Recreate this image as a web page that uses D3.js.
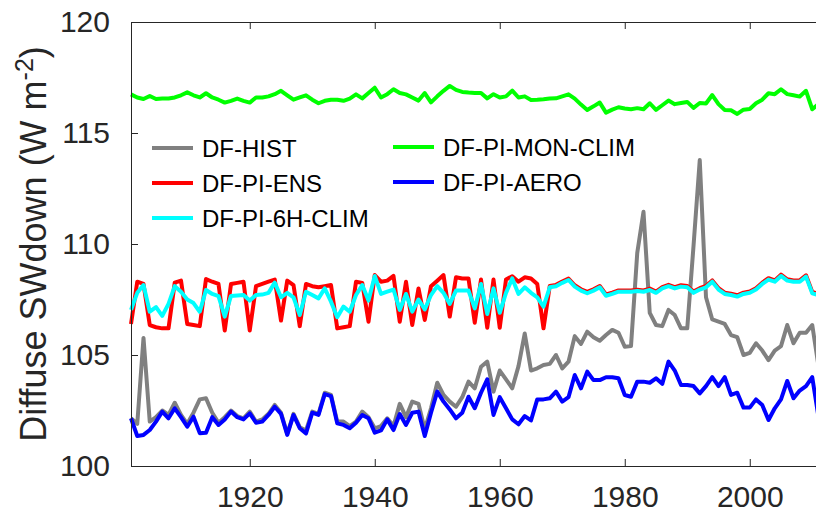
<!DOCTYPE html>
<html>
<head>
<meta charset="utf-8">
<script src="https://cdn.jsdelivr.net/npm/d3@7"></script>
<style>
  body { margin: 0; background: #fff; }
  svg { display: block; font-family: "Liberation Sans", Arial, Helvetica, sans-serif; }
</style>
</head>
<body>
<div id="chart"></div>
<script>
// years 1901..2011 (last one only partly visible at the right edge)
var years = d3.range(1901, 2012);

var dfHist = [
  102.15, 101.9, 105.77, 102.0, 102.2, 102.5, 102.3, 102.85, 102.3, 101.9,
  102.4, 103.0, 103.05, 102.4, 101.95, 102.2, 102.5, 102.25, 102.15, 102.45,
  102.0, 102.1, 102.35, 102.75, 102.4, 101.45, 102.35, 101.75, 101.6, 102.45,
  102.35, 103.3, 103.2, 102.0, 102.0, 101.8, 102.0, 102.45, 102.2, 101.7,
  101.8, 102.15, 101.8, 102.8, 102.2, 102.9, 102.8, 101.65, 102.6, 103.75,
  103.2, 102.9, 102.67, 103.1, 103.8, 103.5, 104.47, 104.7, 103.35, 104.3,
  103.9, 103.5, 104.5, 105.97, 104.3, 104.4, 104.55, 104.6, 105.0, 104.4,
  104.7, 105.85, 105.5, 106.05, 105.8, 105.64, 105.9, 106.13, 106.0, 105.37,
  105.4, 109.6, 111.45, 106.9, 106.35, 106.3, 107.03, 106.8, 106.2, 106.2,
  109.9, 113.78, 107.6, 106.6, 106.5, 106.4, 105.9, 105.8, 105.0, 105.1,
  105.53, 105.2, 104.77, 105.2, 105.4, 106.35, 105.53, 106.0, 106.0, 106.35,
  104.5
];

var dfPiEns = [
  106.4, 108.3, 108.2, 106.35, 106.25, 106.2, 106.2, 108.26, 108.35, 106.4,
  106.35, 106.3, 108.42, 108.3, 108.2, 106.1, 108.2, 108.25, 108.3, 106.1,
  108.1, 108.2, 108.3, 108.4, 106.55, 108.35, 108.15, 106.3, 108.2, 108.1,
  108.05, 108.1, 108.15, 106.2, 106.25, 106.3, 108.3, 108.25, 106.5, 108.6,
  108.3, 108.35, 108.56, 106.5, 108.3, 106.35, 108.0, 106.58, 108.1, 108.35,
  108.6, 106.73, 108.5, 108.45, 108.45, 106.45, 108.4, 106.23, 108.4, 106.23,
  108.4, 108.55, 108.3, 108.5, 108.45, 108.2, 106.2, 108.11, 108.16, 108.31,
  108.44, 108.14, 107.96, 107.84, 107.96, 108.11, 107.73, 107.81, 107.91, 107.91,
  107.91, 107.94, 107.91, 107.99, 107.86, 108.06, 108.16, 108.06, 108.14, 108.11,
  107.86, 108.01, 108.11, 108.36, 108.01, 107.81, 107.76, 107.69, 107.81, 107.86,
  108.01, 108.26, 108.46, 108.36, 108.62, 108.41, 108.36, 108.36, 108.59, 107.84,
  107.76
];

var dfPi6hClim = [
  107.03, 107.8, 108.15, 106.95, 107.16, 106.76, 107.3, 108.1, 107.85, 107.5,
  107.34, 106.95, 107.93, 107.75, 107.65, 106.73, 107.66, 107.68, 107.7, 107.45,
  107.7, 107.72, 107.8, 108.26, 107.6, 107.8, 107.6, 106.8, 107.85, 107.7,
  107.55, 108.0, 107.4, 106.7, 107.18, 106.95, 107.7, 108.15, 107.45, 108.56,
  107.75, 107.85, 107.95, 107.03, 107.75, 106.95, 107.5, 107.05, 107.7, 108.1,
  107.8, 107.3, 107.9, 107.9, 107.9, 107.1, 108.2, 106.85, 108.0, 106.9,
  107.8, 108.45, 107.75, 108.05, 107.8, 107.6, 107.18, 108.05, 108.1, 108.25,
  108.38, 108.08, 107.9, 107.78, 107.9, 108.05, 107.67, 107.75, 107.85, 107.85,
  107.85, 107.88, 107.85, 107.93, 107.8, 108.0, 108.1, 108.0, 108.08, 108.05,
  107.8, 107.95, 108.05, 108.3, 107.95, 107.75, 107.7, 107.63, 107.75, 107.8,
  107.95, 108.2, 108.4, 108.3, 108.56, 108.35, 108.3, 108.3, 108.53, 107.78,
  107.7
];

var dfPiMonClim = [
  116.74, 116.6, 116.53, 116.67, 116.53, 116.55, 116.55, 116.6, 116.7, 116.83,
  116.7, 116.6, 116.79, 116.6, 116.5, 116.37, 116.45, 116.55, 116.45, 116.37,
  116.6, 116.6, 116.65, 116.75, 116.9, 116.7, 116.5, 116.6, 116.7, 116.5,
  116.34, 116.45, 116.5, 116.5, 116.45, 116.55, 116.74, 116.56, 116.8, 117.04,
  116.6, 116.75, 116.97, 116.8, 116.74, 116.6, 116.46, 116.8, 116.38, 116.65,
  116.9, 117.12, 116.94, 116.85, 116.82, 116.8, 116.8, 116.56, 116.75, 116.6,
  116.65, 116.91, 116.6, 116.65, 116.49, 116.5, 116.52, 116.55, 116.56, 116.65,
  116.74, 116.55, 116.28, 116.04, 116.2, 116.37, 115.92, 116.05, 116.16, 116.1,
  116.07, 116.12, 116.07, 116.34, 116.04, 116.25, 116.46, 116.3, 116.35, 116.4,
  116.13, 116.35, 116.33, 116.71, 116.3, 116.04, 116.02, 115.86, 116.05, 116.08,
  116.34, 116.5, 116.79, 116.75, 116.97, 116.75, 116.7, 116.64, 116.9, 116.07,
  116.3
];

var dfPiAero = [
  102.15, 101.35, 101.4, 101.62, 102.0, 102.45, 102.15, 102.6, 102.2, 101.77,
  102.22, 101.48, 101.5, 102.2, 101.85, 102.1, 102.45, 102.2, 102.1, 102.37,
  101.95, 102.0, 102.3, 102.67, 102.35, 101.4, 102.3, 101.7, 101.47, 102.4,
  102.3, 103.24, 103.15, 101.92, 101.85, 101.7, 101.95, 102.3, 102.15, 101.5,
  101.6, 102.1, 101.62, 102.34, 101.85, 102.4, 102.45, 101.35, 102.4, 103.35,
  102.9, 102.55, 102.15, 102.4, 103.12, 102.6, 103.3, 103.9, 102.3, 103.1,
  102.6, 102.1, 101.88, 102.25, 102.05, 103.0, 103.0, 103.05, 103.35, 102.9,
  103.1, 104.1, 103.5, 104.25, 103.87, 103.87, 104.0, 104.0, 103.95, 103.2,
  103.12, 103.8, 103.8, 103.75, 103.95, 103.7, 104.7, 104.3, 103.65, 103.65,
  103.6, 103.27, 103.6, 104.0, 103.6, 104.0, 103.2, 103.3, 102.63, 102.63,
  103.0, 102.75, 102.07, 102.6, 103.0, 103.83, 103.05, 103.4, 103.6, 104.0,
  102.2
];

var yTicks = [100, 105, 110, 115, 120];
var xTicks = [1920, 1940, 1960, 1980, 2000];

// draw order (last on top)
var series = [
  { name: "DF-HIST", values: dfHist, color: "#808080" },
  { name: "DF-PI-MON-CLIM", values: dfPiMonClim, color: "#00ff00" },
  { name: "DF-PI-ENS", values: dfPiEns, color: "#ff0000" },
  { name: "DF-PI-AERO", values: dfPiAero, color: "#0000ff" },
  { name: "DF-PI-6H-CLIM", values: dfPi6hClim, color: "#00ffff" }
];

// legend layout: two columns, filled as in the figure
var legendCols = [
  ["DF-HIST", "DF-PI-ENS", "DF-PI-6H-CLIM"],
  ["DF-PI-MON-CLIM", "DF-PI-AERO"]
];

var W = 816, H = 516;
var margin = { top: 22, left: 131, bottom: 50 };
var plotBottom = H - margin.bottom;

var svg = d3.select("#chart").append("svg")
    .attr("width", W)
    .attr("height", H);

var x = d3.scaleLinear().domain([1901, 2012]).range([margin.left, margin.left + 111 * 6.25]);
var y = d3.scaleLinear().domain([100, 120]).range([plotBottom, margin.top]);

var axisColor = "#262626";

// lines
var line = d3.line()
    .x(function(d, i) { return x(years[i]); })
    .y(function(d) { return y(d); });

series.forEach(function(s) {
  svg.append("path")
    .datum(s.values)
    .attr("fill", "none")
    .attr("stroke", s.color)
    .attr("stroke-width", 4)
    .attr("stroke-linejoin", "round")
    .attr("d", line);
});

// axes (box, inward ticks)
var gx = svg.append("g")
    .attr("transform", "translate(0," + plotBottom + ")")
    .call(d3.axisBottom(x).tickValues(xTicks).tickFormat(d3.format("d")).tickSizeInner(-7).tickSizeOuter(0).tickPadding(20));
var gxTop = svg.append("g")
    .attr("transform", "translate(0," + margin.top + ")")
    .call(d3.axisTop(x).tickValues(xTicks).tickFormat("").tickSizeInner(-7).tickSizeOuter(0));
var gy = svg.append("g")
    .attr("transform", "translate(" + margin.left + ",0)")
    .call(d3.axisLeft(y).tickValues(yTicks).tickSizeInner(-7).tickSizeOuter(0).tickPadding(21));

[gx, gxTop, gy].forEach(function(g) {
  g.select(".domain").attr("stroke", axisColor).attr("stroke-width", 1);
  g.selectAll(".tick line").attr("stroke", axisColor).attr("stroke-width", 1);
  g.selectAll(".tick text")
    .attr("fill", axisColor)
    .style("font-size", "30px")
    .style("font-family", "'Liberation Sans', Arial, sans-serif");
});

// y label
var ylab = svg.append("text")
    .attr("transform", "translate(46," + ((margin.top + plotBottom) / 2) + ") rotate(-90)")
    .attr("text-anchor", "middle")
    .attr("fill", axisColor)
    .style("font-size", "36px");
ylab.append("tspan").text("Diffuse SWdown (W m");
ylab.append("tspan").attr("dy", "-13").style("font-size", "25px").text("-2");
ylab.append("tspan").attr("dy", "13").text(")");

// legend
var colorOf = {};
series.forEach(function(s) { colorOf[s.name] = s.color; });
var legendX = [152, 393];
var legendY0 = 148, legendStep = 35;

legendCols.forEach(function(col, ci) {
  col.forEach(function(name, ri) {
    var ly = legendY0 + ri * legendStep - ci;
    svg.append("line")
      .attr("x1", legendX[ci]).attr("x2", legendX[ci] + 41)
      .attr("y1", ly).attr("y2", ly)
      .attr("stroke", colorOf[name])
      .attr("stroke-width", 4);
    svg.append("text")
      .attr("x", legendX[ci] + 50)
      .attr("y", ly + 8.5)
      .attr("fill", "#000")
      .style("font-size", "24px")
      .text(name);
  });
});
</script>
</body>
</html>
